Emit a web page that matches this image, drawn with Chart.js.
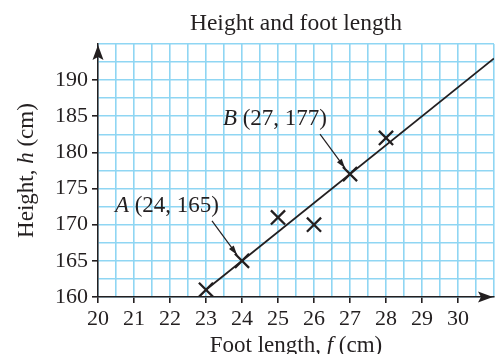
<!DOCTYPE html>
<html>
<head>
<meta charset="utf-8">
<script src="https://cdn.jsdelivr.net/npm/chart.js@4"></script>
<style>
  html, body { margin: 0; padding: 0; background: #fff; }
  #wrap { width: 497px; height: 354px; }
</style>
</head>
<body>
<div id="wrap"><canvas id="chart" width="497" height="354"></canvas></div>
<script>
// data
const footLength = [23, 24, 25, 26, 27, 28];
const height = [161, 165, 171, 170, 177, 182];
const lineFoot = [23, 31];
const lineHeight = [161, 193];
const labelledPoints = [
    {name: 'A', f: 24, h: 165},
    {name: 'B', f: 27, h: 177}
];

const serif = '"Liberation Serif", "DejaVu Serif", serif';
const ink = '#231f20';
const gridBlue = '#8fd6f3';
const textSize = 23;

// title, axis titles, arrows and point labels
const extras = {
    id: 'extras',
    afterDraw(chart) {
        const ctx = chart.ctx;
        const area = chart.chartArea;
        const xs = chart.scales.x;
        const ys = chart.scales.y;
        const midX = (area.left + area.right) / 2;
        ctx.save();
        ctx.fillStyle = ink;
        ctx.strokeStyle = ink;

        // title
        drawMixed(ctx, [['Height and foot length', false]], midX, 30, 23.5);

        // x title with italic f
        drawMixed(ctx, [['Foot length, ', false], ['f', true], [' (cm)', false]], midX, 352, textSize);

        // y title, rotated
        ctx.save();
        ctx.translate(33, (area.top + area.bottom) / 2);
        ctx.rotate(-Math.PI / 2);
        drawMixed(ctx, [['Height, ', false], ['h', true], [' (cm)', false]], 0, 0, textSize);
        ctx.restore();

        // axis arrows
        ctx.beginPath();
        ctx.moveTo(area.right - 1, area.bottom);
        ctx.lineTo(area.right - 16, area.bottom - 5.5);
        ctx.lineTo(area.right - 13, area.bottom);
        ctx.lineTo(area.right - 16, area.bottom + 5.5);
        ctx.closePath();
        ctx.fill();
        ctx.beginPath();
        ctx.moveTo(area.left, area.top + 1);
        ctx.lineTo(area.left - 5.5, area.top + 16);
        ctx.lineTo(area.left, area.top + 13);
        ctx.lineTo(area.left + 5.5, area.top + 16);
        ctx.closePath();
        ctx.fill();

        // point labels with arrows
        labelledPoints.forEach(p => {
            const px = xs.getPixelForValue(p.f);
            const py = ys.getPixelForValue(p.h);
            const parts = [[p.name, true], [' (' + p.f + ', ' + p.h + ')', false]];
            let w = 0;
            parts.forEach(t => {
                ctx.font = (t[1] ? 'italic ' : '') + textSize + 'px ' + serif;
                w += ctx.measureText(t[0]).width;
            });
            drawMixed(ctx, parts, px - 23 - w / 2, py - 49, textSize);
            const x0 = px - 30, y0 = py - 40, x1 = px - 5, y1 = py - 6;
            ctx.lineWidth = 1.2;
            ctx.beginPath();
            ctx.moveTo(x0, y0);
            ctx.lineTo(x1, y1);
            ctx.stroke();
            const ang = Math.atan2(y1 - y0, x1 - x0);
            ctx.beginPath();
            ctx.moveTo(x1, y1);
            ctx.lineTo(x1 - 10 * Math.cos(ang - 0.3), y1 - 10 * Math.sin(ang - 0.3));
            ctx.lineTo(x1 - 10 * Math.cos(ang + 0.3), y1 - 10 * Math.sin(ang + 0.3));
            ctx.closePath();
            ctx.fill();
        });
        ctx.restore();
    }
};

// draws text pieces, some italic, centred on cx
function drawMixed(ctx, parts, cx, baseline, size) {
    let total = 0;
    parts.forEach(p => {
        ctx.font = (p[1] ? 'italic ' : '') + size + 'px ' + serif;
        total += ctx.measureText(p[0]).width;
    });
    let x = cx - total / 2;
    ctx.textAlign = 'left';
    ctx.textBaseline = 'alphabetic';
    parts.forEach(p => {
        ctx.font = (p[1] ? 'italic ' : '') + size + 'px ' + serif;
        ctx.fillText(p[0], x, baseline);
        x += ctx.measureText(p[0]).width;
    });
}

new Chart(document.getElementById('chart'), {
    type: 'scatter',
    data: {
        datasets: [{
            type: 'line',
            data: lineFoot.map((f, i) => ({x: f, y: lineHeight[i]})),
            borderColor: ink,
            borderWidth: 1.8,
            pointRadius: 0,
            fill: false
        }, {
            data: footLength.map((f, i) => ({x: f, y: height[i]})),
            pointStyle: 'crossRot',
            pointRadius: 10,
            borderColor: ink,
            pointBorderWidth: 2.3
        }]
    },
    options: {
        responsive: false,
        animation: false,
        layout: {autoPadding: false, padding: {top: 44, right: 3, left: 0, bottom: 0}},
        plugins: {
            legend: {display: false},
            tooltip: {enabled: false}
        },
        scales: {
            x: {
                type: 'linear',
                min: 20,
                max: 31,
                afterFit: s => {
                    s.height = 57;
                    s.paddingLeft = 0;
                    s.paddingRight = 0;
                },
                ticks: {
                    stepSize: 0.5,
                    autoSkip: false,
                    maxRotation: 0,
                    padding: 3,
                    color: ink,
                    font: {family: serif, size: 22},
                    callback: v => (Number.isInteger(v) && v <= 30) ? v : ''
                },
                grid: {
                    color: gridBlue,
                    lineWidth: 1.6,
                    tickLength: 6,
                    tickColor: c => (c.tick && Number.isInteger(c.tick.value) && c.tick.value <= 30) ? ink : 'rgba(0,0,0,0)'
                },
                border: {color: ink, width: 1.5}
            },
            y: {
                min: 160,
                max: 195,
                afterFit: s => {
                    s.width = 98;
                    s.paddingTop = 0;
                    s.paddingBottom = 0;
                },
                ticks: {
                    stepSize: 2.5,
                    autoSkip: false,
                    padding: 4,
                    color: ink,
                    font: {family: serif, size: 22},
                    callback: v => (v % 5 === 0 && v <= 190) ? v : ''
                },
                grid: {
                    color: gridBlue,
                    lineWidth: 1.6,
                    tickLength: 6,
                    tickColor: c => (c.tick && c.tick.value % 5 === 0 && c.tick.value <= 190) ? ink : 'rgba(0,0,0,0)'
                },
                border: {color: ink, width: 1.5}
            }
        }
    },
    plugins: [extras]
});
</script>
</body>
</html>
